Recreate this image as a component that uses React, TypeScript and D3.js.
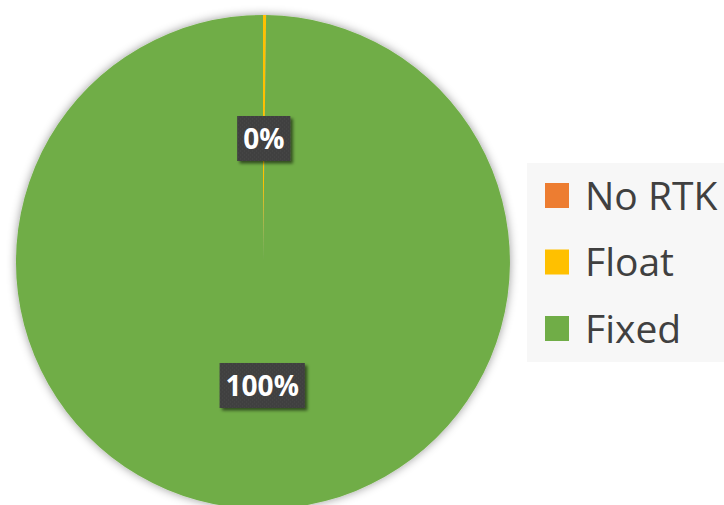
import { useEffect, useRef } from "react";
import * as d3 from "d3";

const categories = ["No RTK", "Float", "Fixed"];
const values = [0, 0.2, 99.8];
const colors = ["#ED7D31", "#FFC000", "#70AD47"];

const W = 724;
const H = 505;

export default function App() {
	const svgRef = useRef<SVGSVGElement>(null);

	useEffect(() => {
		if (!svgRef.current) return;
		const svg = d3.select(svgRef.current);
		svg.selectAll("*").remove();

		const defs = svg.append("defs");
		const shadow = defs.append("filter").attr("id", "pieShadow")
			.attr("x", "-10%").attr("y", "-10%").attr("width", "120%").attr("height", "120%");
		shadow.append("feDropShadow").attr("dx", 0).attr("dy", 0)
			.attr("stdDeviation", 5).attr("flood-color", "#000").attr("flood-opacity", 0.4);

		const lblShadow = defs.append("filter").attr("id", "lblShadow")
			.attr("x", "-20%").attr("y", "-20%").attr("width", "150%").attr("height", "150%");
		lblShadow.append("feDropShadow").attr("dx", 2.5).attr("dy", 2.5)
			.attr("stdDeviation", 1.5).attr("flood-color", "#000").attr("flood-opacity", 0.55);

		const pat = defs.append("pattern").attr("id", "dots")
			.attr("width", 4).attr("height", 4).attr("patternUnits", "userSpaceOnUse");
		pat.append("rect").attr("width", 4).attr("height", 4).attr("fill", "#3f3f3f");
		pat.append("rect").attr("x", 0).attr("y", 0).attr("width", 1).attr("height", 1).attr("fill", "#4c4c4c");
		pat.append("rect").attr("x", 2).attr("y", 2).attr("width", 1).attr("height", 1).attr("fill", "#4c4c4c");

		// legend background
		svg.append("rect").attr("x", 527).attr("y", 163).attr("width", 200).attr("height", 199)
			.attr("fill", "#f7f7f7");

		const cx = 263;
		const cy = 262;
		const r = 247;

		const pie = d3.pie<number>().sort(null).value((d) => d);
		const arcs = pie(values);
		const arc = d3.arc<d3.PieArcDatum<number>>().innerRadius(0).outerRadius(r);
		const total = d3.sum(values);

		const g = svg.append("g").attr("transform", `translate(${cx},${cy})`);
		g.append("g").attr("filter", "url(#pieShadow)")
			.selectAll("path")
			.data(arcs)
			.join("path")
			.attr("d", arc)
			.attr("fill", (_, i) => colors[i]);

		const labels = g.selectAll("g.lbl")
			.data(arcs.filter((a) => a.value > 0))
			.join("g")
			.attr("class", "lbl")
			.attr("transform", (d) => {
				const [x, y] = arc.centroid(d);
				return `translate(${x},${y})`;
			});

		labels.each(function (d) {
			const el = d3.select(this);
			const txt = `${Math.round((d.value / total) * 100)}%`;
			const t = el.append("text")
				.attr("text-anchor", "middle")
				.attr("dy", "0.36em")
				.attr("font-family", "'Open Sans', sans-serif")
				.attr("font-weight", 700)
				.attr("font-size", 28)
				.attr("fill", "#fff")
				.text(txt);
			const w = (t.node() as SVGTextElement).getComputedTextLength() + 12;
			el.insert("rect", "text")
				.attr("x", -w / 2).attr("y", -22.5)
				.attr("width", w).attr("height", 45)
				.attr("fill", "url(#dots)")
				.attr("filter", "url(#lblShadow)");
		});

		const leg = svg.append("g");
		const rowY = d3.scaleLinear().domain([0, 2]).range([183, 316]);
		categories.forEach((c, i) => {
			leg.append("rect").attr("x", 545).attr("y", rowY(i))
				.attr("width", 24).attr("height", 25).attr("fill", colors[i]);
			leg.append("text").attr("x", 585).attr("y", rowY(i) + 26.5)
				.attr("font-family", "'Open Sans', sans-serif")
				.attr("font-size", 39)
				.attr("fill", "#404040")
				.text(c);
		});
	}, []);

	return (
		<svg
			ref={svgRef}
			width={W}
			height={H}
			style={{ position: "absolute", left: 0, top: 0, background: "#fff" }}
		/>
	);
}
